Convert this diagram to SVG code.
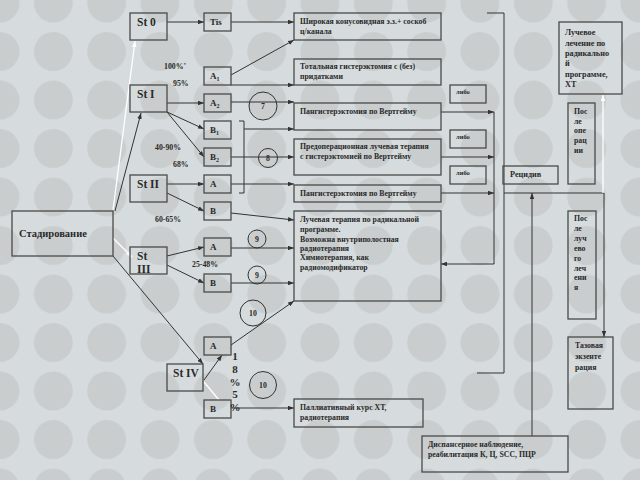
<svg xmlns="http://www.w3.org/2000/svg" width="640" height="480" viewBox="0 0 640 480">
<defs>
<pattern id="dots" patternUnits="userSpaceOnUse" x="-26.67" y="-21.25" width="53.33" height="48.5">
<circle cx="26.67" cy="24.25" r="19.5" fill="#c9cdce"/>
</pattern>
<marker id="ar" viewBox="0 0 8 6" refX="8" refY="3" markerWidth="6" markerHeight="4.5" orient="auto" markerUnits="userSpaceOnUse">
<path d="M0,0 L8,3 L0,6 z" fill="#333"/>
</marker>
<marker id="aw" viewBox="0 0 8 6" refX="8" refY="3" markerWidth="6" markerHeight="4.5" orient="auto" markerUnits="userSpaceOnUse">
<path d="M0,0 L8,3 L0,6 z" fill="#fff"/>
</marker>
<style>
.bx{fill:none;stroke:#4a4a4a;stroke-width:1.3}
.ln{fill:none;stroke:#333;stroke-width:1}
.lw{fill:none;stroke:#fff;stroke-width:1.3}
.arr{marker-end:url(#ar)}
.arw{marker-end:url(#aw)}
.t{font-family:"Liberation Serif",serif;font-weight:bold;fill:#2a2a2a}
.n{font-size:11.5px}
.s{font-size:9px}
.x{font-size:7.8px}
.p{font-size:8.2px}
.c{fill:none;stroke:#333;stroke-width:1}
</style>
</defs>
<rect width="640" height="480" fill="#d6dcdd"/>
<rect width="640" height="480" fill="url(#dots)"/>

<g id="connectors">
<line class="lw arw" x1="113" y1="210" x2="135" y2="41"/>
<line class="ln arr" x1="115" y1="211" x2="141" y2="113"/>
<line class="lw arw" x1="113" y1="238" x2="132" y2="257"/>
<line class="ln arr" x1="113" y1="256" x2="203" y2="364"/>
<line class="ln arr" x1="167" y1="22" x2="204" y2="22"/>
<line class="ln arr" x1="231" y1="22" x2="294" y2="22"/>
<line class="ln arr" x1="231" y1="75" x2="294" y2="40"/>
<line class="ln arr" x1="231" y1="85" x2="294" y2="85"/>
<line class="ln arr" x1="167" y1="103" x2="204" y2="103"/>
<line class="ln arr" x1="167" y1="112" x2="204" y2="129"/>
<line class="ln arr" x1="167" y1="112" x2="204" y2="157"/>
<line class="ln arr" x1="231" y1="102" x2="294" y2="102"/>
<path class="ln" d="M239,121 H244 V193 H239"/>
<line class="ln arr" x1="244" y1="129" x2="294" y2="129"/>
<line class="ln arr" x1="231" y1="157" x2="294" y2="157"/>
<line class="ln arr" x1="167" y1="184" x2="204" y2="184"/>
<line class="ln arr" x1="167" y1="193" x2="204" y2="211"/>
<line class="ln arr" x1="231" y1="184" x2="294" y2="184"/>
<line class="ln arr" x1="231" y1="213" x2="294" y2="220"/>
<line class="ln arr" x1="167" y1="256" x2="204" y2="247"/>
<line class="ln arr" x1="167" y1="265" x2="204" y2="283"/>
<line class="ln arr" x1="231" y1="248" x2="294" y2="248"/>
<line class="ln arr" x1="231" y1="283" x2="294" y2="283"/>
<line class="ln arr" x1="231" y1="345" x2="294" y2="301"/>
<line class="ln arr" x1="204" y1="380" x2="222" y2="355"/>
<line class="lw" x1="204" y1="382" x2="219" y2="400"/>
<line class="ln arr" x1="231" y1="408" x2="294" y2="408"/>
<path class="ln" d="M487,13 H504 V373 H477"/>
<line class="ln arr" x1="441" y1="112" x2="494" y2="112"/>
<line class="ln arr" x1="441" y1="157" x2="494" y2="157"/>
<line class="ln arr" x1="441" y1="193" x2="494" y2="193"/>
<path class="ln arr" d="M494,112 V264 H441"/>
<path class="ln arr" d="M504,193 H604 V337"/>
<line class="lw arw" x1="603" y1="193" x2="603" y2="95"/>
<line class="ln arr" x1="532" y1="436" x2="532" y2="193"/>
</g>

<g id="circles">
<circle class="c" cx="263" cy="106" r="14"/><text class="t x" x="263" y="109" text-anchor="middle">7</text>
<circle class="c" cx="268" cy="158" r="9.5"/><text class="t x" x="268" y="161" text-anchor="middle">8</text>
<circle class="c" cx="257" cy="239" r="9"/><text class="t x" x="257" y="242" text-anchor="middle">9</text>
<circle class="c" cx="257" cy="275" r="9"/><text class="t x" x="257" y="278" text-anchor="middle">9</text>
<circle class="c" cx="253" cy="313" r="13"/><text class="t x" x="253" y="316" text-anchor="middle">10</text>
<circle class="c" cx="263" cy="385" r="13.5"/><text class="t x" x="263" y="388" text-anchor="middle">10</text>
</g>

<g id="n-staging"><rect class="bx" x="12" y="211" width="101" height="45"/><text class="t" font-size="10.5" x="19" y="237">Стадирование</text></g>
<g id="n-st0"><rect class="bx" x="130" y="13" width="37" height="27"/><text class="t n" x="137" y="26">St 0</text></g>
<g id="n-st1"><rect class="bx" x="130" y="85" width="37" height="27"/><text class="t n" x="137" y="98">St I</text></g>
<g id="n-st2"><rect class="bx" x="130" y="175" width="37" height="27"/><text class="t n" x="137" y="188">St II</text></g>
<g id="n-st3"><rect class="bx" x="130" y="247" width="37" height="27"/><text class="t n" x="137" y="260">St</text><text class="t n" x="137" y="273">III</text></g>
<g id="n-st4"><rect class="bx" x="167" y="364" width="36" height="27"/><text class="t n" x="173" y="377">St IV</text></g>

<g id="n-tis"><rect class="bx" x="204" y="13" width="27" height="18"/><text class="t s" x="210" y="25">Tis</text></g>
<g id="n-a1"><rect class="bx" x="204" y="67" width="27" height="18"/><text class="t s" x="210" y="79">A<tspan font-size="6" dy="2">1</tspan></text></g>
<g id="n-a2"><rect class="bx" x="204" y="94" width="27" height="18"/><text class="t s" x="210" y="106">A<tspan font-size="6" dy="2">2</tspan></text></g>
<g id="n-b1"><rect class="bx" x="204" y="121" width="27" height="18"/><text class="t s" x="210" y="133">B<tspan font-size="6" dy="2">1</tspan></text></g>
<g id="n-b2"><rect class="bx" x="204" y="148" width="27" height="18"/><text class="t s" x="210" y="160">B<tspan font-size="6" dy="2">2</tspan></text></g>
<g id="n-a-st2"><rect class="bx" x="204" y="175" width="27" height="18"/><text class="t s" x="210" y="187">A</text></g>
<g id="n-b-st2"><rect class="bx" x="204" y="202" width="27" height="18"/><text class="t s" x="210" y="214">B</text></g>
<g id="n-a-st3"><rect class="bx" x="204" y="238" width="27" height="18"/><text class="t s" x="210" y="250">A</text></g>
<g id="n-b-st3"><rect class="bx" x="204" y="274" width="27" height="18"/><text class="t s" x="210" y="286">B</text></g>
<g id="n-a-st4"><rect class="bx" x="204" y="337" width="27" height="18"/><text class="t s" x="210" y="349">A</text></g>
<g id="n-b-st4"><rect class="bx" x="204" y="400" width="27" height="18"/><text class="t s" x="210" y="412">B</text></g>

<g id="n-conus"><rect class="bx" x="294" y="13" width="147" height="27"/><text class="t x" x="300" y="24">Широкая конусовидная э.з.+ соскоб</text><text class="t x" x="300" y="34">ц/канала</text></g>
<g id="n-total"><rect class="bx" x="294" y="59" width="147" height="26"/><text class="t x" x="300" y="69">Тотальная гистерэктомия с (без)</text><text class="t x" x="300" y="79">придатками</text></g>
<g id="n-pang1"><rect class="bx" x="294" y="103" width="147" height="27"/><text class="t x" x="300" y="114">Пангистерэктомия по Вертгейму</text></g>
<g id="n-preop"><rect class="bx" x="294" y="139" width="147" height="36"/><text class="t x" x="300" y="149">Предоперационная лучевая терапия</text><text class="t x" x="300" y="159">с гистерэктомией по Вертгейму</text></g>
<g id="n-pang2"><rect class="bx" x="294" y="185" width="147" height="17"/><text class="t x" x="300" y="196">Пангистерэктомия по Вертгейму</text></g>
<g id="n-radio"><rect class="bx" x="294" y="211" width="147" height="90"/>
<text class="t x" x="300" y="222">Лучевая терапия по радикальной</text>
<text class="t x" x="300" y="232">программе.</text>
<text class="t x" x="300" y="242">Возможна внутриполостная</text>
<text class="t x" x="300" y="251">радиотерапия</text>
<text class="t x" x="300" y="260">Химиотерапия, как</text>
<text class="t x" x="300" y="270">радиомодификатор</text></g>
<g id="n-pall"><rect class="bx" x="294" y="399" width="129" height="28"/><text class="t x" x="300" y="410">Паллиативный курс  ХТ,</text><text class="t x" x="300" y="420">радиотерапия</text></g>
<g id="n-disp"><rect class="bx" x="422" y="436" width="146" height="36"/><text class="t x" x="428" y="447">Диспансерное наблюдение,</text><text class="t x" x="428" y="457">реабилитация К, Ц, SCC, ПЦР</text></g>

<g id="n-libo1"><rect class="bx" x="450" y="85" width="36" height="18"/><text class="t" font-size="6.5" x="456" y="94">либо</text></g>
<g id="n-libo2"><rect class="bx" x="450" y="130" width="36" height="18"/><text class="t" font-size="6.5" x="456" y="139">либо</text></g>
<g id="n-libo3"><rect class="bx" x="450" y="166" width="36" height="18"/><text class="t" font-size="6.5" x="456" y="175">либо</text></g>
<g id="n-recid"><rect class="bx" x="503" y="166" width="55" height="18"/><text class="t p" x="510" y="177">Рецидив</text></g>

<g id="n-luch"><rect class="bx" x="559" y="22" width="63" height="72"/>
<text class="t p" x="565" y="35">Лучевое</text>
<text class="t p" x="565" y="46">лечение по</text>
<text class="t p" x="565" y="56">радикально</text>
<text class="t p" x="565" y="66">й</text>
<text class="t p" x="565" y="77">программе,</text>
<text class="t p" x="565" y="87">ХТ</text></g>
<g id="n-postop"><rect class="bx" x="568" y="103" width="27" height="81"/>
<text class="t x" x="574" y="114">Пос</text><text class="t x" x="574" y="124">ле</text><text class="t x" x="574" y="133">опе</text><text class="t x" x="574" y="143">рац</text><text class="t x" x="574" y="153">ии</text></g>
<g id="n-postrad"><rect class="bx" x="568" y="211" width="28" height="108"/>
<text class="t x" x="574" y="221">Пос</text><text class="t x" x="574" y="231">ле</text><text class="t x" x="574" y="241">луч</text><text class="t x" x="574" y="251">ево</text><text class="t x" x="574" y="261">го</text><text class="t x" x="574" y="271">леч</text><text class="t x" x="574" y="280">ени</text><text class="t x" x="574" y="290">я</text></g>
<g id="n-pelv"><rect class="bx" x="568" y="337" width="45" height="72"/>
<text class="t x" x="575" y="348">Тазовая</text><text class="t x" x="575" y="359">экзенте</text><text class="t x" x="575" y="370">рация</text></g>

<g id="labels">
<text class="t x" x="164" y="69">100%<tspan font-size="5" dy="-3">*</tspan></text>
<text class="t x" x="173" y="86">95%</text>
<text class="t x" x="155" y="150">40-90%</text>
<text class="t x" x="173" y="167">68%</text>
<text class="t x" x="155" y="222">60-65%</text>
<text class="t x" x="192" y="267">25-48%</text>
<text class="t" font-size="11" x="235" y="360" text-anchor="middle">1</text>
<text class="t" font-size="11" x="235" y="373" text-anchor="middle">8</text>
<text class="t" font-size="11" x="235" y="386" text-anchor="middle">%</text>
<text class="t" font-size="11" x="235" y="398" text-anchor="middle">5</text>
<text class="t" font-size="11" x="235" y="411" text-anchor="middle">%</text>
</g>
</svg>
